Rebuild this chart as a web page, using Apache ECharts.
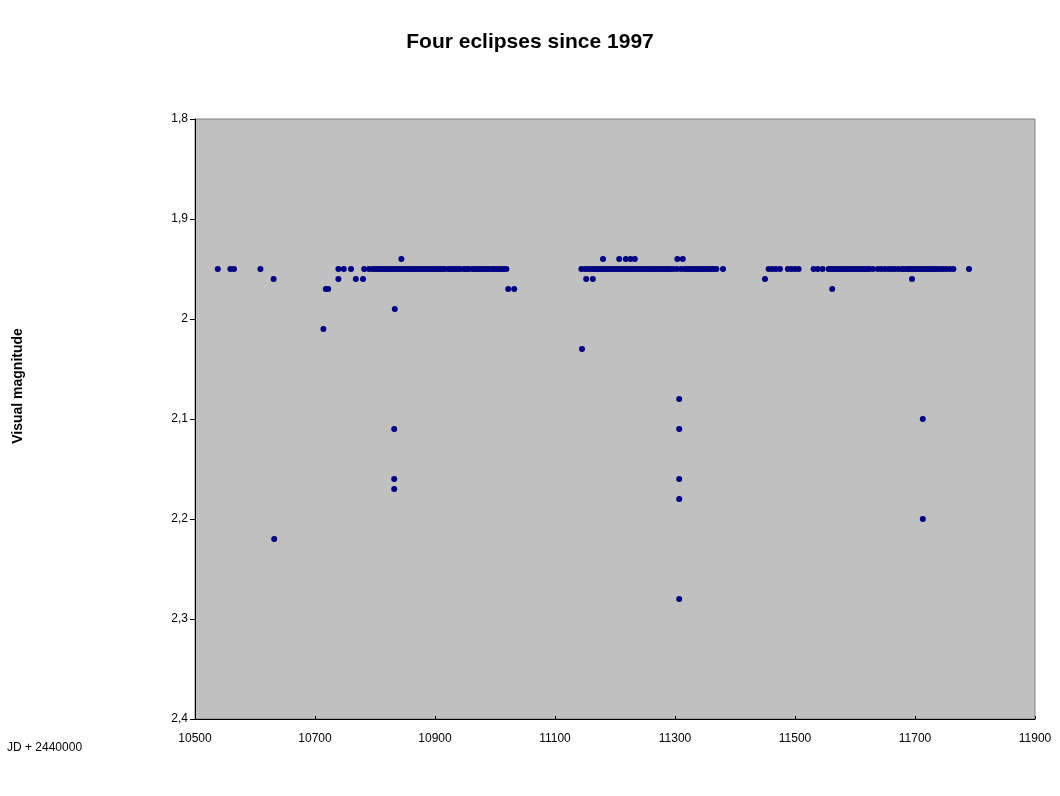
<!DOCTYPE html>
<html>
<head>
<meta charset="utf-8">
<script src="https://cdn.jsdelivr.net/npm/echarts@6/dist/echarts.min.js"></script>
<style>html,body{margin:0;padding:0;background:#fff}#c{width:1060px;height:796px}</style>
</head>
<body>
<div id="c"></div>
<script>
// Julian dates (JD - 2440000) and visual magnitudes, grouped by magnitude
var jd195 = [10538,10559,10565,10609,10739,10748,10760,10782,10790,10796,10800,10804,10808,10812,10816,10820,10824,10828,10832,10836,10840,10844,10848,10852,10856,10860,10864,10868,10872,10876,10880,10884,10888,10892,10896,10900,10904,10908,10912,10916,10922,10926,10930,10934,10938,10942,10948,10952,10956,10962,10966,10970,10974,10978,10982,10986,10990,10995,10999,11003,11007,11011,11015,11019,
 11144,11150,11155,11160,11164,11168,11172,11176,11180,11184,11188,11192,11196,11200,11204,11208,11212,11216,11220,11224,11228,11232,11236,11240,11244,11248,11252,11256,11260,11264,11268,11272,11276,11280,11284,11288,11292,11297,11303,11310,11316,11320,11324,11328,11332,11336,11340,11344,11348,11352,11356,11360,11364,11369,11380,
 11456,11462,11468,11475,11488,11494,11500,11506,11531,11538,11546,11556,11560,11564,11568,11572,11576,11580,11584,11588,11592,11596,11600,11604,11608,11612,11616,11620,11624,11630,11638,11644,11650,11656,11661,11666,11672,11678,11681,11686,11690,11694,11698,11702,11706,11710,11714,11718,11722,11726,11730,11733,11737,11742,11747,11752,11758,11764,11790];
var jd194 = [10844,11180,11207,11218,11226,11233,11304,11313];
var jd196 = [10631,10739,10768,10780,11152,11163,11450,11695];
var jd197 = [10718,10722,11022,11032,11562];
var jdOther = [10833,10714,11145,11307,11307,11307,11307,11307,10832,10832,10832,10632,11713,11713];
var magOther = [1.99,2.01,2.03,2.08,2.11,2.16,2.18,2.28,2.11,2.16,2.17,2.22,2.10,2.20];
var yTicks = [1.8,1.9,2.0,2.1,2.2,2.3,2.4];

var pts = [];
jd195.forEach(function(d){pts.push([d,1.95]);});
jd194.forEach(function(d){pts.push([d,1.94]);});
jd196.forEach(function(d){pts.push([d,1.96]);});
jd197.forEach(function(d){pts.push([d,1.97]);});
jdOther.forEach(function(d,i){pts.push([d,magOther[i]]);});

var font = 'Liberation Sans, Arial, sans-serif';
var chart = echarts.init(document.getElementById('c'), null, {renderer:'canvas'});
chart.setOption({
  animation:false,
  backgroundColor:'#ffffff',
  title:{text:'Four eclipses since 1997',left:'center',top:27,
    textStyle:{fontFamily:font,fontSize:21,fontWeight:'bold',color:'#000'}},
  grid:{left:195,top:119,width:840,height:600,show:true,backgroundColor:'#C0C0C0',borderColor:'#808080',borderWidth:1},
  xAxis:{type:'value',min:10500,max:11900,interval:200,
    axisLine:{show:true,onZero:false,lineStyle:{color:'#000',width:1}},
    axisTick:{show:true,inside:true,length:3,lineStyle:{color:'#000'}},
    splitLine:{show:false},
    axisLabel:{fontFamily:font,fontSize:12,color:'#000',margin:14,
      formatter:function(v){return String(Math.round(v));}}},
  yAxis:{type:'value',inverse:true,min:1.8,max:2.4,interval:0.1,
    axisLine:{show:true,onZero:false,lineStyle:{color:'#000',width:1}},
    axisTick:{show:true,inside:false,length:5,lineStyle:{color:'#000'}},
    splitLine:{show:false},
    axisLabel:{fontFamily:font,fontSize:12,color:'#000',margin:7,
      formatter:function(v){var s=String(Math.round(v*10)/10);return s.replace('.',',');}}},
  graphic:[
    {type:'text',left:7,top:742,style:{text:'JD + 2440000',font:'12px '+font,fill:'#000'}},
    {type:'text',x:18,y:386,rotation:Math.PI/2,style:{text:'Visual magnitude',font:'bold 14px '+font,fill:'#000',align:'center',verticalAlign:'middle'}}
  ],
  series:[{type:'scatter',data:pts,symbol:'circle',symbolSize:6,
    itemStyle:{color:'#000080',opacity:1}}]
});
</script>
</body>
</html>
